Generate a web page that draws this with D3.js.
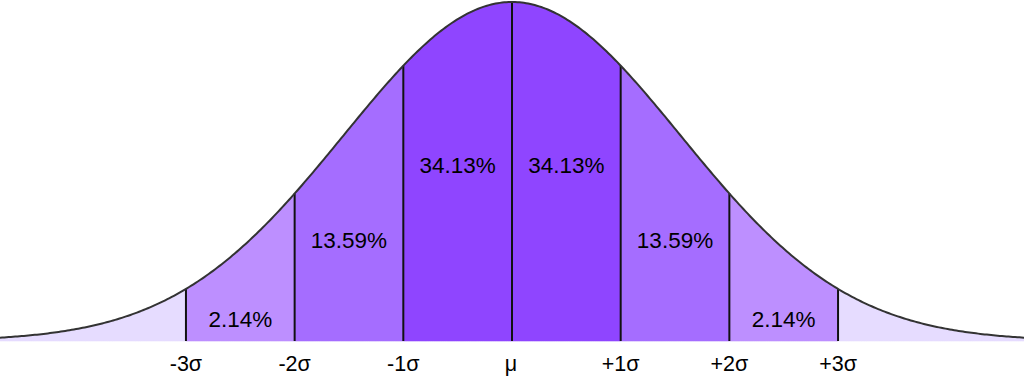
<!DOCTYPE html>
<html lang="en">
<head>
<meta charset="utf-8">
<script src="https://cdn.jsdelivr.net/npm/d3@7/dist/d3.min.js"></script>
<style>
  body { margin: 0; background: #fff; }
  svg text { font-family: "Liberation Sans", Arial, sans-serif; fill: #000; }
</style>
</head>
<body>
<svg width="1024" height="388"></svg>
<script>
// band edges in sigma units and labels
var edges = [-3, -2, -1, 0, 1, 2, 3];
var edgeLabels = ["-3σ", "-2σ", "-1σ", "μ", "+1σ", "+2σ", "+3σ"];
// bands between edges (tails go out to the chart edge)
var bandFrom = [-4.72, -3, -2, -1, 0, 1, 2, 3];
var bandTo   = [-3, -2, -1, 0, 1, 2, 3, 4.72];
var bandPct  = ["", "2.14%", "13.59%", "34.13%", "34.13%", "13.59%", "2.14%", ""];
var bandColor = ["#e6dcff", "#bd8fff", "#a56dff", "#8f45ff", "#8f45ff", "#a56dff", "#bd8fff", "#e6dcff"];

var width = 1024, baseY = 341, topY = 2;
var curveWidth = 1.55; // the drawn bell is wider than the marked sigma steps

var x = d3.scaleLinear().domain([-4.711, 4.711]).range([0, width]);
var y = d3.scaleLinear().domain([0, 1]).range([baseY, topY]);

function dens(s) { return Math.exp(-0.5 * Math.pow(s / curveWidth, 2)); }
function pts(a, b) { return d3.range(a, b, 0.02).concat([b]); }

var svg = d3.select("svg");

// filled bands
var area = d3.area().x(function(s) { return x(s); }).y0(baseY).y1(function(s) { return y(dens(s)); });
svg.selectAll(".band")
  .data(bandFrom)
  .enter().append("path")
  .attr("class", "band")
  .attr("d", function(d, i) { return area(pts(bandFrom[i], bandTo[i])); })
  .attr("fill", function(d, i) { return bandColor[i]; })
  .attr("stroke", function(d, i) { return bandColor[i]; })
  .attr("stroke-width", 0.6);

// vertical sigma lines
svg.selectAll(".edge")
  .data(edges)
  .enter().append("line")
  .attr("x1", function(d) { return x(d); })
  .attr("x2", function(d) { return x(d); })
  .attr("y1", baseY)
  .attr("y2", function(d) { return y(dens(d)); })
  .attr("stroke", "#111")
  .attr("stroke-width", 2);

// bell curve outline
var line = d3.line().x(function(s) { return x(s); }).y(function(s) { return y(dens(s)); });
svg.append("path")
  .attr("d", line(pts(-4.711, 4.711)))
  .attr("fill", "none")
  .attr("stroke", "#333")
  .attr("stroke-width", 2);

// percentage labels, level in density units
var labelLevel = [0, 0.041, 0.275, 0.497, 0.497, 0.275, 0.041, 0];
svg.selectAll(".pct")
  .data(bandPct)
  .enter().append("text")
  .attr("x", function(d, i) { return x((bandFrom[i] + bandTo[i]) / 2); })
  .attr("y", function(d, i) { return y(labelLevel[i]); })
  .attr("text-anchor", "middle")
  .attr("font-size", 22.5)
  .text(function(d) { return d; });

// sigma labels under the baseline
var sigShift = [0, 0, 0, -1, 0, 0, 0];
svg.selectAll(".sig")
  .data(edgeLabels)
  .enter().append("text")
  .attr("x", function(d, i) { return x(edges[i]) + sigShift[i]; })
  .attr("y", 371)
  .attr("text-anchor", "middle")
  .attr("font-size", 21.5)
  .text(function(d) { return d; });
</script>
</body>
</html>
